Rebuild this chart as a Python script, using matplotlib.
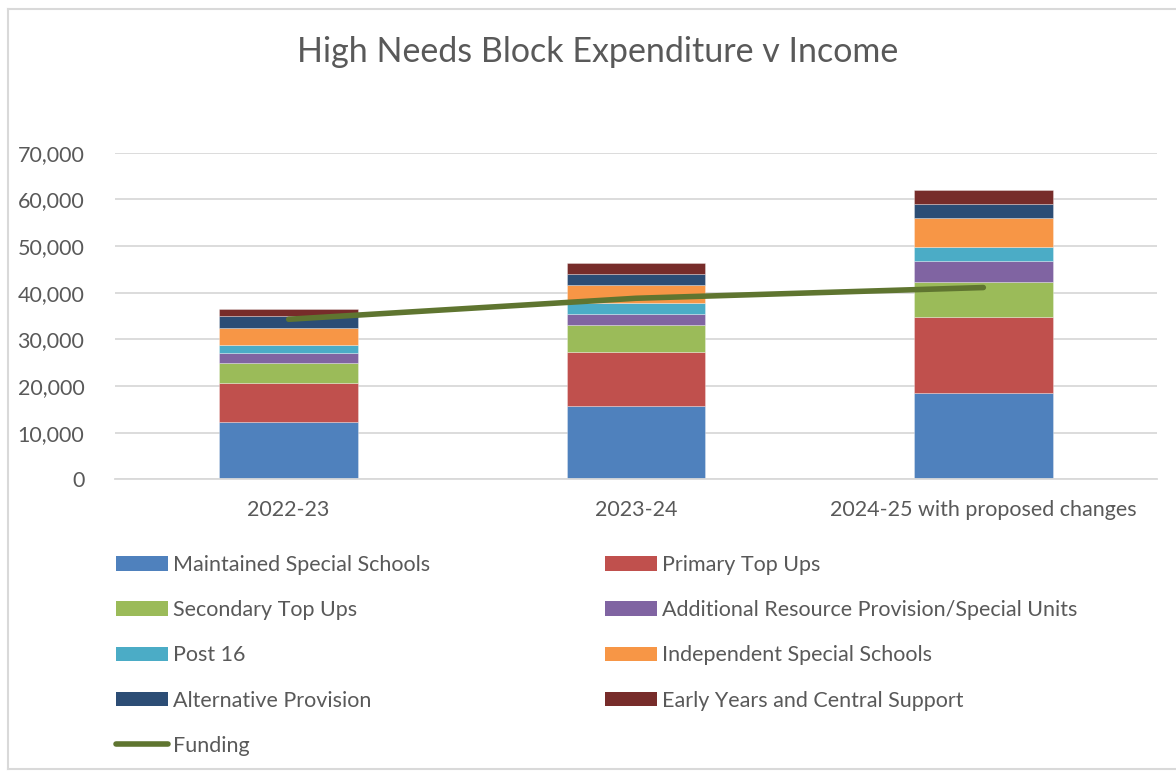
import matplotlib.pyplot as plt
from matplotlib.patches import Patch
from matplotlib.lines import Line2D
from matplotlib.ticker import FuncFormatter
import numpy as np

plt.rcParams['font.family'] = ['Lato', 'DejaVu Sans']

years = ["2022-23", "2023-24", "2024-25 with proposed changes"]

# expenditure by category, £000
maintained = [12200, 15700, 18400]
primary = [8400, 11500, 16400]
secondary = [4300, 5800, 7500]
arp = [2100, 2400, 4400]
post16 = [1700, 2400, 3100]
independent = [3800, 3900, 6200]
alternative = [2400, 2400, 3100]
early_years = [1700, 2200, 3000]
funding = [34300, 38800, 41100]

series = [
    ("Maintained Special Schools", maintained, "#4F81BD"),
    ("Primary Top Ups", primary, "#C0504D"),
    ("Secondary Top Ups", secondary, "#9BBB59"),
    ("Additional Resource Provision/Special Units", arp, "#8064A2"),
    ("Post 16", post16, "#4BACC6"),
    ("Independent Special Schools", independent, "#F79646"),
    ("Alternative Provision", alternative, "#2C4D75"),
    ("Early Years and Central Support", early_years, "#772C2A"),
]
text_col = "#595959"

fig = plt.figure(figsize=(11.76, 7.72), dpi=100)
W, H = 1176, 772
ax = fig.add_axes([115 / W, 1 - 479.3 / H, (1157 - 115) / W, (479.3 - 152.7) / H])

x = np.arange(len(years))
bottom = np.zeros(len(years))
for name, vals, col in series:
    ax.bar(x, vals, 0.4, bottom=bottom, color=col, edgecolor=(1, 1, 1, 0.35),
           linewidth=0.6, zorder=2)
    bottom += np.array(vals)

ax.plot(x, funding, color="#5F7530", linewidth=4, solid_capstyle="round", zorder=3)

ax.set_xlim(-0.5, 2.5)
ax.set_ylim(0, 70000)
ax.set_yticks(range(0, 70001, 10000))
ax.yaxis.set_major_formatter(FuncFormatter(lambda v, p: f"{int(v):,}"))
ax.set_xticks(x)
ax.set_xticklabels(years)
ax.grid(axis="y", color="#D9D9D9", linewidth=1.3, zorder=0)
for s in ["top", "right", "left"]:
    ax.spines[s].set_visible(False)
ax.spines["bottom"].set_color("#D9D9D9")
ax.spines["bottom"].set_linewidth(1.3)
ax.tick_params(axis="both", length=0, labelsize=15.5, colors=text_col)
ax.tick_params(axis="x", pad=15)
ax.tick_params(axis="y", pad=22)

fig.text(598 / W, 1 - 52 / H, "High Needs Block Expenditure v Income",
         ha="center", va="center", fontsize=24.5, color=text_col)

# border of chart area (top, left, bottom)
bc = "#D9D9D9"
fig.add_artist(Line2D([8 / W, 1.0], [1 - 8.5 / H] * 2, transform=fig.transFigure, color=bc, linewidth=1.5))
fig.add_artist(Line2D([8 / W] * 2, [1 - 8.5 / H, 1 - 769 / H], transform=fig.transFigure, color=bc, linewidth=1.5))
fig.add_artist(Line2D([8 / W, 1.0], [1 - 769 / H] * 2, transform=fig.transFigure, color=bc, linewidth=1.5))

handles = []
order = [0, 2, 4, 6, None, 1, 3, 5, 7]
for i in order:
    if i is None:
        handles.append(Line2D([], [], color="#5F7530", linewidth=4, solid_capstyle="round",
                              label="Funding"))
    else:
        name, vals, col = series[i]
        handles.append(Patch(facecolor=col, label=name))
leg = fig.legend(handles=handles, ncol=2, loc="upper left",
                 bbox_to_anchor=(116 / W, 1 - 555 / H), frameon=False,
                 borderaxespad=0, borderpad=0,
                 fontsize=15.5, handlelength=2.42, handleheight=0.65, handletextpad=0.23,
                 labelspacing=1.17, columnspacing=8.1)
for t in leg.get_texts():
    t.set_color(text_col)

fig.savefig("out.png", dpi=100)
